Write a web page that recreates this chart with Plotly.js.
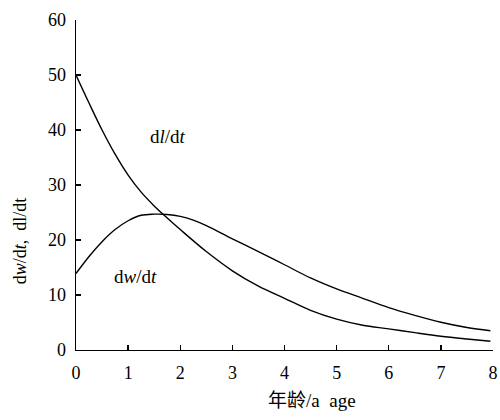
<!DOCTYPE html>
<html>
<head>
<meta charset="utf-8">
<script src="https://cdn.plot.ly/plotly-3.0.1.min.js"></script>
<style>html,body{margin:0;padding:0;background:#fff;}#chart{width:500px;height:420px;}</style>
</head>
<body>
<div id="chart"></div>
<script>
// dl/dt curve (length growth rate)
const dlAge = [0, 0.25, 0.5, 0.75, 1.0, 1.25, 1.5, 1.75, 2.0, 2.5, 3.0, 3.5, 4.0, 4.5, 5.0, 5.5, 6.0, 6.5, 7.0, 7.5, 7.95];
const dlVal = [50, 44.9, 40.0, 35.6, 31.8, 28.7, 26.2, 24.0, 21.9, 17.9, 14.4, 11.6, 9.4, 7.2, 5.6, 4.5, 3.85, 3.15, 2.5, 2.0, 1.6];
// dw/dt curve (weight growth rate)
const dwAge = [0, 0.25, 0.5, 0.75, 1.0, 1.25, 1.5, 1.75, 2.0, 2.25, 2.5, 3.0, 3.5, 4.0, 4.5, 5.0, 5.5, 6.0, 6.5, 7.0, 7.5, 7.95];
const dwVal = [13.9, 17.0, 19.7, 21.9, 23.5, 24.5, 24.7, 24.65, 24.3, 23.6, 22.6, 20.2, 17.9, 15.5, 13.1, 11.1, 9.4, 7.7, 6.3, 5.05, 4.1, 3.5];
const xTicks = [0, 1, 2, 3, 4, 5, 6, 7, 8];
const yTicks = [0, 10, 20, 30, 40, 50, 60];

const FONT = '"Liberation Serif", "Times New Roman", "Noto Sans CJK SC", serif';
const lineStyle = {color: '#000', width: 1.4, shape: 'spline', smoothing: 1};

const traces = [
  {x: dlAge, y: dlVal, mode: 'lines', line: lineStyle, hoverinfo: 'skip'},
  {x: dwAge, y: dwVal, mode: 'lines', line: lineStyle, hoverinfo: 'skip'}
];

const layout = {
  width: 500, height: 420,
  margin: {l: 76, r: 7, t: 20, b: 70},
  paper_bgcolor: '#fff', plot_bgcolor: '#fff',
  showlegend: false,
  font: {family: FONT, size: 18, color: '#000'},
  xaxis: {
    range: [0, 8], tickvals: xTicks, ticktext: xTicks.map(String),
    showgrid: false, zeroline: false, showline: true, linecolor: '#000', linewidth: 1.3,
    ticks: 'inside', ticklen: 5, tickwidth: 1.3, tickcolor: '#000',
    tickfont: {family: FONT, size: 18, color: '#000'}, ticklabelstandoff: 6
  },
  yaxis: {
    range: [0, 60], tickvals: yTicks, ticktext: yTicks.map(String),
    showgrid: false, zeroline: false, showline: true, linecolor: '#000', linewidth: 1.3,
    ticks: 'inside', ticklen: 5, tickwidth: 1.3, tickcolor: '#000',
    tickfont: {family: FONT, size: 18, color: '#000'}, ticklabelstandoff: 5
  },
  annotations: [
    {x: 1.76, y: 38.9, xref: 'x', yref: 'y', text: 'd<i>l</i>/d<i>t</i>', showarrow: false,
     font: {family: FONT, size: 19, color: '#000'}},
    {x: 1.14, y: 13.3, xref: 'x', yref: 'y', text: 'd<i>w</i>/d<i>t</i>', showarrow: false,
     font: {family: FONT, size: 19, color: '#000'}},
    {x: 0.565, y: -0.152, xref: 'paper', yref: 'paper', text: '年龄/a&nbsp;&nbsp;age', showarrow: false,
     xanchor: 'center', yanchor: 'middle', font: {family: FONT, size: 19, color: '#000'}},
    {x: -0.134, y: 0.33, xref: 'paper', yref: 'paper', text: 'd<i>w</i>/d<i>t</i>,&nbsp;&nbsp;dl/dt', showarrow: false,
     textangle: -90, xanchor: 'center', yanchor: 'middle', font: {family: FONT, size: 18, color: '#000'}}
  ]
};

Plotly.newPlot('chart', traces, layout, {staticPlot: true, displayModeBar: false});
</script>
</body>
</html>
